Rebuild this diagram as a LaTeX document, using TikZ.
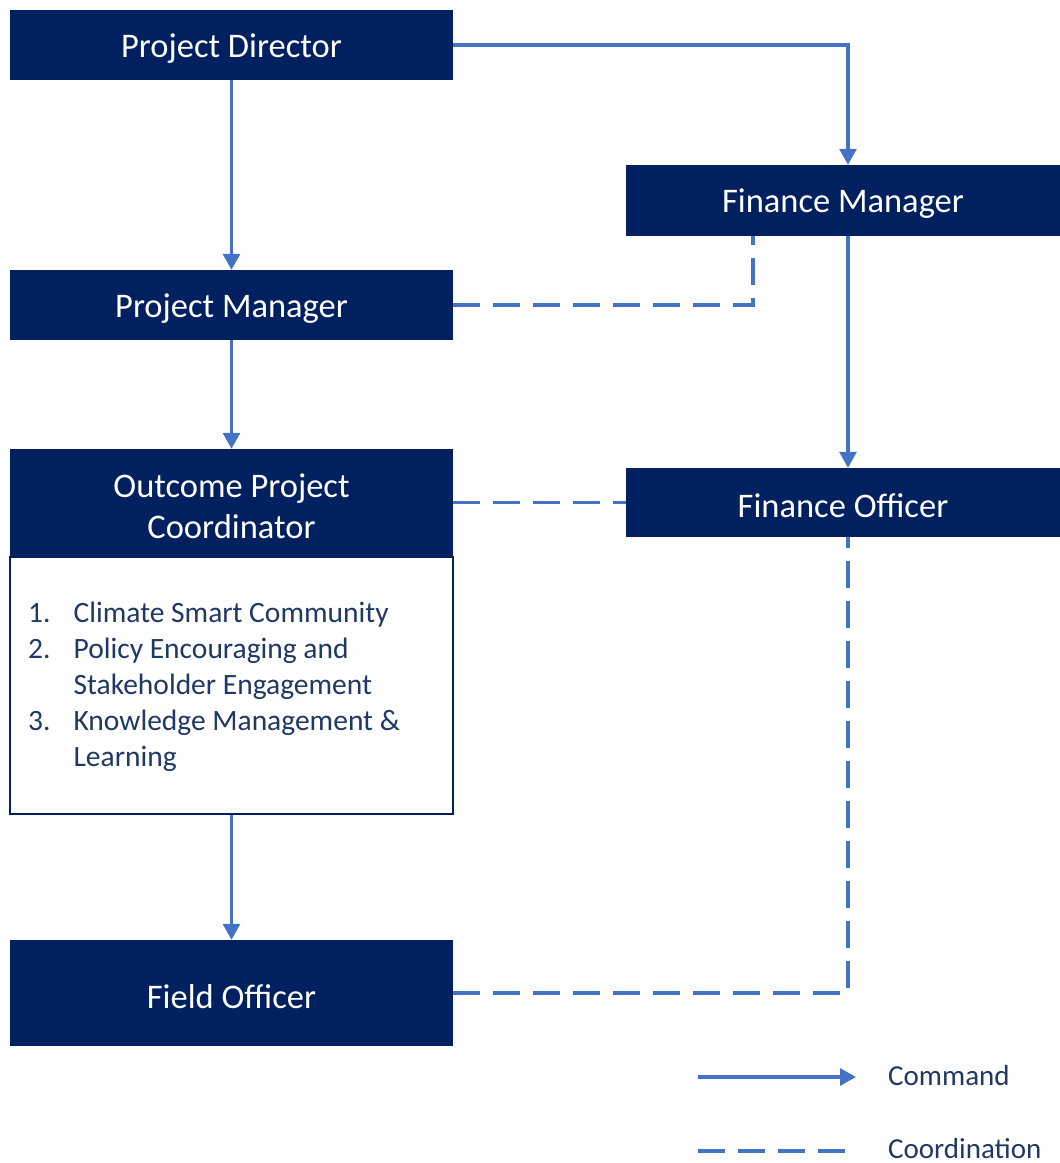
\documentclass[tikz,border=0pt]{standalone}
\usepackage{fontspec}
\setmainfont{Carlito}
\usetikzlibrary{arrows.meta}
\definecolor{navy}{HTML}{002060}
\definecolor{lineblue}{HTML}{4472C4}
\definecolor{listtext}{HTML}{1F3864}
\newcommand{\lowr}[1]{\raisebox{-3.5pt}[\height][\depth]{#1}}
\begin{document}
\begin{tikzpicture}[x=1pt,y=-1pt,
  box/.style={fill=navy,text=white,inner sep=0pt,font=\fontsize{34.5}{41}\selectfont,align=center},
  cmd/.style={draw=lineblue,line width=3.2pt,-{Triangle[length=16pt,width=17pt]}},
  coord/.style={draw=lineblue,line width=3.2pt,dash pattern=on 27pt off 13pt},
  lbl/.style={text=listtext,font=\fontsize{29}{36}\selectfont,anchor=west,inner sep=0pt}]
\useasboundingbox (0,0) rectangle (1060,1163);
\node[box,minimum width=443pt,minimum height=70pt] (pd) at (231.5,45) {\lowr{Project Director}};
\node[box,minimum width=434pt,minimum height=71pt] (fm) at (843,200.5) {\lowr{Finance Manager}};
\node[box,minimum width=443pt,minimum height=70pt] (pm) at (231.5,305) {\lowr{Project Manager}};
\node[box,minimum width=443pt,minimum height=107pt] (opc) at (231.5,502.5) {\lowr{Outcome Project}\\\lowr{Coordinator}};
\node[draw=navy,line width=1.5pt,fill=white,minimum width=443pt,minimum height=257pt,inner sep=0pt,anchor=north] (list) at (231.5,556) {};
\node[box,minimum width=434pt,minimum height=69pt] (fo) at (843,502.5) {\lowr{Finance Officer}};
\node[box,minimum width=443pt,minimum height=106pt] (fld) at (231.5,993) {\lowr{Field Officer}};
% list text
\node[text=listtext,font=\fontsize{29.5}{36}\selectfont,anchor=north west,inner sep=0pt,align=left] (items) at (28,597) {%
\begin{tabular}{@{}l@{\hspace{23pt}}l@{}}
1. & Climate Smart Community\\
2. & Policy Encouraging and\\
   & Stakeholder Engagement\\
3. & Knowledge Management \&\\
   & Learning
\end{tabular}};
% connectors
\coordinate (c1) at (848,45);
\draw[cmd] (pd.east) -- (c1) -- (fm.north -| c1);
\draw[cmd] (pd.south) -- (pm.north);
\draw[cmd] (pm.south) -- (opc.north);
\draw[cmd] (list.south) -- (fld.north);
\draw[cmd] (fm.south -| c1) -- (fo.north -| c1);
\coordinate (c2) at (753,305);
\draw[coord] (pm.east) -- (c2) -- (fm.south -| c2);
\draw[coord] (opc.east) -- (fo.west);
\coordinate (c3) at (848,993);
\draw[coord] (fld.east) -- (c3) -- (fo.south -| c3);
% legend
\coordinate (l1) at (698,1077);
\coordinate (l2) at (856,1077);
\coordinate (l3) at (698,1151);
\coordinate (l4) at (845,1151);
\draw[cmd] (l1) -- (l2);
\draw[coord] (l3) -- (l4);
\node[lbl] (lc) at (888,1076) {Command};
\node[lbl] (lo) at (888,1149) {Coordination};
\end{tikzpicture}
\end{document}
